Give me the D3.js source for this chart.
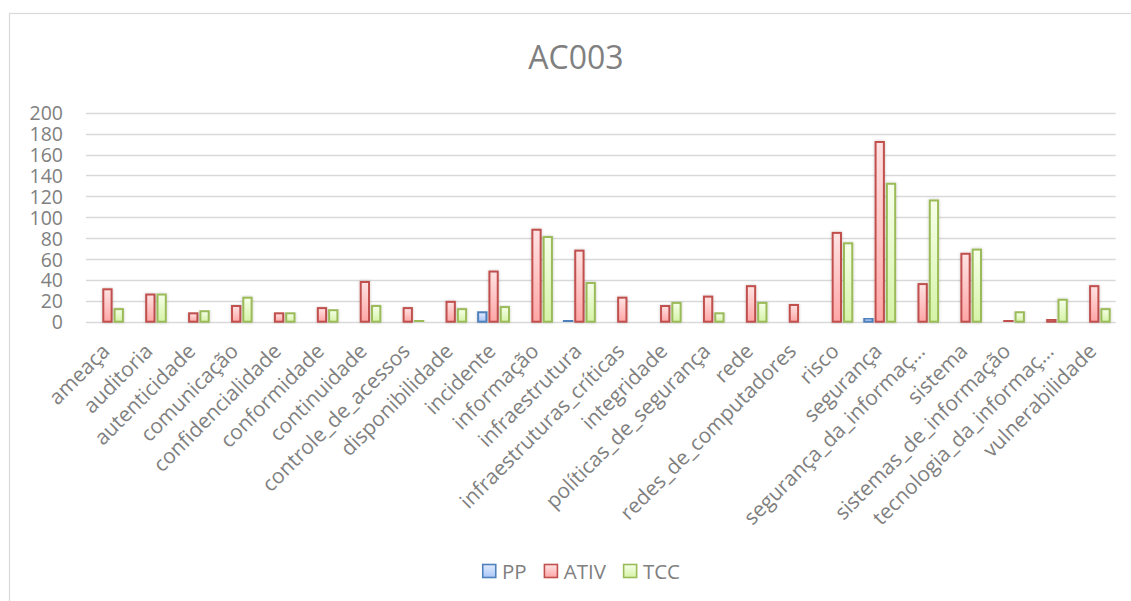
<!DOCTYPE html>
<html>
<head>
<meta charset="utf-8">
<script src="https://cdn.jsdelivr.net/npm/d3@7/dist/d3.min.js"></script>
<style>
  html, body { margin: 0; padding: 0; background: #fff; }
  svg { display: block; }
  text { font-family: "Open Sans", "DejaVu Sans", sans-serif; fill: #808080; }
</style>
</head>
<body>
<svg id="chart" width="1131" height="601"></svg>
<script>
const title = "AC003";
const categories = ["ameaça","auditoria","autenticidade","comunicação","confidencialidade","conformidade","continuidade","controle_de_acessos","disponibilidade","incidente","informação","infraestrutura","infraestruturas_críticas","integridade","políticas_de_segurança","rede","redes_de_computadores","risco","segurança","segurança_da_informaç…","sistema","sistemas_de_informação","tecnologia_da_informaç…","vulnerabilidade"];
const seriesNames = ["PP","ATIV","TCC"];
const ppValues   = [0,0,0,0,0,0,0,0,0,9,0,1,0,0,0,0,0,0,3,0,0,0,0,0];
const ativValues = [31,26,8,15,8,13,38,13,19,48,88,68,23,15,24,34,16,85,172,36,65,1,2,34];
const tccValues  = [12,26,10,23,8,11,15,1,12,14,81,37,0,18,8,18,0,75,132,116,69,9,21,12];
const yTicks = [0,20,40,60,80,100,120,140,160,180,200];

const seriesValues = [ppValues, ativValues, tccValues];
const styles = {
  PP:   {stroke:"#4f81bd", top:"#e1ebff", bottom:"#a9c6f7"},
  ATIV: {stroke:"#c0504d", top:"#ffe3e3", bottom:"#ffa6a6"},
  TCC:  {stroke:"#9bbb59", top:"#f6ffea", bottom:"#d5f3a6"}
};

const svg = d3.select("#chart");
const defs = svg.append("defs");
seriesNames.forEach(s => {
  const g = defs.append("linearGradient").attr("id","grad-"+s)
    .attr("x1",0).attr("y1",0).attr("x2",0).attr("y2",1);
  g.append("stop").attr("offset","0%").attr("stop-color",styles[s].top);
  g.append("stop").attr("offset","100%").attr("stop-color",styles[s].bottom);
});
const f = defs.append("filter").attr("id","shadow")
  .attr("x","-50%").attr("y","-10%").attr("width","200%").attr("height","130%");
f.append("feDropShadow").attr("dx",0).attr("dy",0).attr("stdDeviation",1.8)
  .attr("flood-color","#000").attr("flood-opacity",0.22);

// frame
svg.append("rect").attr("x",9.5).attr("y",13.5).attr("width",1130).attr("height",600)
  .attr("fill","none").attr("stroke","#d9d9d9").attr("stroke-width",1.2);

// title
svg.append("text").attr("x",576).attr("y",68.5).attr("text-anchor","middle")
  .style("font-size","32px").text(title);

const y = d3.scaleLinear().domain([0,200]).range([321.7,112.7]);
const x0 = d3.scaleBand().domain(categories).range([86,1115.7])
  .paddingInner(0.21).paddingOuter(0.105);
const x1 = d3.scaleBand().domain(seriesNames).range([0,x0.bandwidth()]);

// gridlines
svg.append("g").selectAll("line").data(yTicks).join("line")
  .attr("x1",86).attr("x2",1115.7)
  .attr("y1",d=>Math.round(y(d))+0.5).attr("y2",d=>Math.round(y(d))+0.5)
  .attr("stroke","#d9d9d9").attr("stroke-width",1.3);

// y axis labels
const yAxis = d3.axisLeft(y).tickValues(yTicks).tickSize(0).tickPadding(0);
const yg = svg.append("g").attr("transform","translate(63,0)").call(yAxis);
yg.select(".domain").remove();
yg.selectAll("text").style("font-size","19.5px").attr("fill","#808080")
  .style("font-family","'Open Sans', sans-serif").attr("dy","0.36em");

// bars
const groups = svg.append("g").selectAll("g").data(categories).join("g")
  .attr("transform",d=>`translate(${x0(d)},0)`);
groups.selectAll("rect")
  .data((c,i)=>seriesNames.map((s,k)=>({s, v: seriesValues[k][i]})).filter(d=>d.v>0))
  .join("rect")
  .attr("x",d=>x1(d.s)+1.5)
  .attr("width",x1.bandwidth()-3)
  .attr("y",d=>y(d.v))
  .attr("height",d=>y(0)-y(d.v))
  .attr("fill",d=>`url(#grad-${d.s})`)
  .attr("stroke",d=>styles[d.s].stroke)
  .attr("stroke-width",2)
  .attr("filter","url(#shadow)");

// x labels
const xAxis = d3.axisBottom(x0).tickSize(0).tickPadding(0);
const xg = svg.append("g").call(xAxis);
xg.select(".domain").remove();
xg.selectAll(".tick").attr("transform",d=>`translate(${x0(d)+x0.bandwidth()/2},0)`);
xg.selectAll(".tick text")
  .attr("y",null).attr("dy",null)
  .attr("text-anchor","end")
  .attr("fill","#808080")
  .style("font-size","20.8px")
  .style("font-family","'Open Sans', sans-serif")
  .attr("transform","translate(3.5,352.5) rotate(-45)");

// legend
const legend = svg.append("g");
let cx = 0;
seriesNames.forEach(s => {
  const g = legend.append("g");
  g.append("rect").attr("x",cx+0.75).attr("y",564.5).attr("width",13).attr("height",13)
    .attr("fill",`url(#grad-${s})`).attr("stroke",styles[s].stroke).attr("stroke-width",1.6);
  const t = g.append("text").attr("x",cx+20).attr("y",578.5).style("font-size","20.5px").text(s);
  const w = t.node().getComputedTextLength();
  cx += 20 + w + 17;
});
const total = cx - 17;
legend.attr("transform",`translate(${581 - total/2},0)`);
</script>
</body>
</html>
